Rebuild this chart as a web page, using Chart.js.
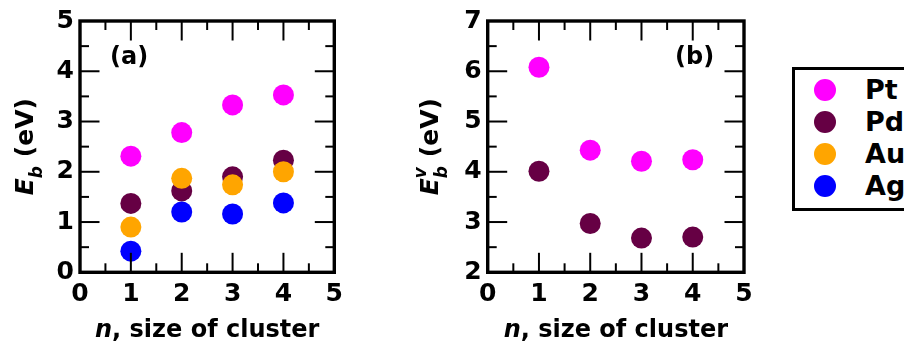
<!DOCTYPE html>
<html>
<head>
<meta charset="utf-8">
<script src="https://cdn.jsdelivr.net/npm/chart.js@4/dist/chart.umd.min.js"></script>
<style>
  html, body { margin: 0; padding: 0; background: #fff; overflow: hidden; }
  #page { position: relative; width: 904px; height: 342px; overflow: hidden; }
  .panel { position: absolute; top: 0; height: 342px; }
  #panelA { left: 0; width: 400px; }
  #panelB { left: 400px; width: 392px; }
  #legend {
    position: absolute; left: 792px; top: 67px; width: 150px; height: 138px;
    border: 3.5px solid #000; font: bold 27px "DejaVu Sans", sans-serif; color: #000;
  }
  #legend .row { position: absolute; left: 0; height: 32px; line-height: 32px; width: 100%; }
  #legend .dot { position: absolute; left: 18.5px; top: 5px; width: 22px; height: 22px; border-radius: 50%; }
  #legend .name { position: absolute; left: 70px; top: 0; }
</style>
</head>
<body>
<div id="page">
  <div class="panel" id="panelA"><canvas id="chartA"></canvas></div>
  <div class="panel" id="panelB"><canvas id="chartB"></canvas></div>
  <div id="legend"></div>
</div>
<script>
// binding energies per cluster size
const sizes = [1, 2, 3, 4];
const metals = ["Pt", "Pd", "Au", "Ag"];
const colors = ["#FF00FF", "#660044", "#FFA500", "#0000FF"];

const ebPt = [2.31, 2.78, 3.33, 3.53];
const ebPd = [1.37, 1.62, 1.9, 2.23];
const ebAu = [0.9, 1.87, 1.74, 2.0];
const ebAg = [0.42, 1.2, 1.16, 1.38];

const ebvPt = [6.08, 4.43, 4.21, 4.24];
const ebvPd = [4.01, 2.97, 2.68, 2.7];

const xRange = [0, 5];
const yRangeA = [0, 5];
const yRangeB = [2, 7];

const FONT = "'DejaVu Sans', sans-serif";
Chart.defaults.font.family = FONT;
Chart.defaults.color = "#000";

function points(values) {
  return sizes.map((n, i) => ({ x: n, y: values[i] }));
}

function line(ctx, x1, y1, x2, y2) {
  ctx.beginPath();
  ctx.moveTo(x1, y1);
  ctx.lineTo(x2, y2);
  ctx.stroke();
}

// text made of several runs (italic letters, sub/superscripts), centred on cx
function drawRuns(ctx, runs, cx, baseY) {
  let total = 0;
  runs.forEach((r) => {
    ctx.font = r.font;
    if (!r.keep) total += ctx.measureText(r.t).width;
  });
  let x = cx - total / 2;
  runs.forEach((r) => {
    ctx.font = r.font;
    ctx.fillText(r.t, x, baseY + (r.dy || 0));
    if (!r.keep) x += ctx.measureText(r.t).width;
  });
}

const main = `bold 25px ${FONT}`;
const ital = `italic bold 25px ${FONT}`;
const small = `italic bold 17px ${FONT}`;

// boxed frame, inward ticks on all sides, axis titles and panel tag
const frame = {
  id: "frame",
  afterDatasetsDraw(chart, args, opts) {
    const { ctx, chartArea: a } = chart;
    const { x, y } = chart.scales;
    ctx.save();
    ctx.strokeStyle = "#000";
    ctx.fillStyle = "#000";
    ctx.lineWidth = 2;
    for (let v = x.min; v <= x.max; v += 0.5) {
      const px = x.getPixelForValue(v);
      const len = v % 1 === 0 ? 19.5 : 9;
      line(ctx, px, a.bottom, px, a.bottom - len);
      line(ctx, px, a.top, px, a.top + len);
    }
    for (let v = y.min; v <= y.max; v += 0.5) {
      const py = y.getPixelForValue(v);
      const len = v % 1 === 0 ? 19.5 : 9;
      line(ctx, a.left, py, a.left + len, py);
      line(ctx, a.right, py, a.right - len, py);
    }
    ctx.lineWidth = 3.4;
    ctx.strokeRect(a.left, a.top, a.width, a.height);

    ctx.textBaseline = "alphabetic";
    ctx.textAlign = "left";
    ctx.font = `bold 24px ${FONT}`;
    ctx.fillText(opts.tag, opts.tagX, 64);

    drawRuns(ctx, [
      { t: "n", font: `italic bold 24px ${FONT}` },
      { t: ", size of cluster", font: `bold 24px ${FONT}` },
    ], (a.left + a.right) / 2, 336.5);

    ctx.translate(a.left - opts.titleGap, (a.top + a.bottom) / 2);
    ctx.rotate(-Math.PI / 2);
    drawRuns(ctx, opts.yTitle, 0, 0);
    ctx.restore();
  },
};

function makeChart(canvas, datasets, yRange, padRight, plug) {
  return new Chart(canvas, {
    type: "scatter",
    data: { datasets },
    options: {
      responsive: true,
      maintainAspectRatio: false,
      animation: false,
      layout: { padding: { top: 16.5, right: padRight, left: 0, bottom: 0 } },
      elements: { point: { radius: 10.5, hoverRadius: 10.5, borderWidth: 0 } },
      plugins: { legend: { display: false }, tooltip: { enabled: false }, frame: plug },
      scales: {
        x: {
          type: "linear",
          min: xRange[0],
          max: xRange[1],
          grid: { display: false, drawTicks: false },
          border: { display: false },
          ticks: { stepSize: 1, padding: 7, font: { size: 25, weight: "bold" }, color: "#000" },
          afterFit: (s) => { s.height = 69.7; },
        },
        y: {
          type: "linear",
          min: yRange[0],
          max: yRange[1],
          grid: { display: false, drawTicks: false },
          border: { display: false },
          ticks: { stepSize: 1, padding: 6, font: { size: 25, weight: "bold" }, color: "#000" },
          afterFit: (s) => { s.width = plug.axisLeft; },
        },
      },
    },
    plugins: [frame],
  });
}

function series(label, values, k) {
  return {
    label,
    data: points(values),
    backgroundColor: colors[k],
    borderColor: colors[k],
    order: 3 - k,
  };
}

const chartA = makeChart(
  document.querySelector("#chartA"),
  [series("Pt", ebPt, 0), series("Pd", ebPd, 1), series("Au", ebAu, 2), series("Ag", ebAg, 3)],
  yRangeA,
  65.7,
  {
    tag: "(a)", tagX: 110, titleGap: 47, axisLeft: 80,
    yTitle: [
      { t: "E", font: ital },
      { t: "b", font: small, dy: 9 },
      { t: " (eV)", font: main },
    ],
  }
);

const chartB = makeChart(
  document.querySelector("#chartB"),
  [series("Pt", ebvPt, 0), series("Pd", ebvPd, 1)],
  yRangeB,
  48,
  {
    tag: "(b)", tagX: 275, titleGap: 50, axisLeft: 87.7,
    yTitle: [
      { t: "E", font: ital },
      { t: "v", font: small, dy: -12, keep: true },
      { t: "b", font: small, dy: 9 },
      { t: " (eV)", font: main },
    ],
  }
);

// legend box on the right
const legend = document.querySelector("#legend");
metals.forEach((m, k) => {
  const row = document.createElement("div");
  row.className = "row";
  row.style.top = 3.5 + k * 32 + "px";
  row.innerHTML = `<span class="dot" style="background:${colors[k]}"></span><span class="name">${m}</span>`;
  legend.appendChild(row);
});
</script>
</body>
</html>
